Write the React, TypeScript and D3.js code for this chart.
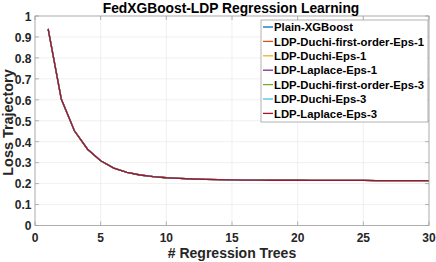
import React from "react";
import * as d3 from "d3";

const trees = [1,2,3,4,5,6,7,8,9,10,11,12,13,14,15,16,17,18,19,20,21,22,23,24,25,26,27,28,29,30];
const plainXGBoost = [0.938,0.604,0.452,0.364,0.309,0.274,0.254,0.241,0.233,0.228,0.225,0.222,0.220,0.219,0.218,0.217,0.217,0.216,0.216,0.216,0.215,0.215,0.215,0.215,0.215,0.214,0.214,0.214,0.214,0.214];
const duchiFirstEps1 = [0.938,0.604,0.452,0.364,0.309,0.274,0.254,0.241,0.233,0.228,0.225,0.222,0.220,0.219,0.218,0.217,0.217,0.216,0.216,0.216,0.215,0.215,0.215,0.215,0.215,0.214,0.214,0.214,0.214,0.214];
const duchiEps1 = [0.938,0.604,0.452,0.364,0.309,0.274,0.254,0.241,0.233,0.228,0.225,0.222,0.220,0.219,0.218,0.217,0.217,0.216,0.216,0.216,0.215,0.215,0.215,0.215,0.215,0.214,0.214,0.214,0.214,0.214];
const laplaceEps1 = [0.938,0.604,0.452,0.364,0.309,0.274,0.254,0.241,0.233,0.228,0.225,0.222,0.220,0.219,0.218,0.217,0.217,0.216,0.216,0.216,0.215,0.215,0.215,0.215,0.215,0.214,0.214,0.214,0.214,0.214];
const duchiFirstEps3 = [0.938,0.604,0.452,0.364,0.309,0.274,0.254,0.241,0.233,0.228,0.225,0.222,0.220,0.219,0.218,0.217,0.217,0.216,0.216,0.216,0.215,0.215,0.215,0.215,0.215,0.214,0.214,0.214,0.214,0.214];
const duchiEps3 = [0.938,0.604,0.452,0.364,0.309,0.274,0.254,0.241,0.233,0.228,0.225,0.222,0.220,0.219,0.218,0.217,0.217,0.216,0.216,0.216,0.215,0.215,0.215,0.215,0.215,0.214,0.214,0.214,0.214,0.214];
const laplaceEps3 = [0.938,0.604,0.452,0.364,0.309,0.274,0.254,0.241,0.233,0.228,0.225,0.222,0.220,0.219,0.218,0.217,0.217,0.216,0.216,0.216,0.215,0.215,0.215,0.215,0.215,0.214,0.214,0.214,0.214,0.214];

const seriesNames = ["Plain-XGBoost","LDP-Duchi-first-order-Eps-1","LDP-Duchi-Eps-1","LDP-Laplace-Eps-1","LDP-Duchi-first-order-Eps-3","LDP-Duchi-Eps-3","LDP-Laplace-Eps-3"];
const seriesValues = [plainXGBoost, duchiFirstEps1, duchiEps1, laplaceEps1, duchiFirstEps3, duchiEps3, laplaceEps3];
const seriesColors = ["#0072BD","#D95319","#EDB120","#7E2F8E","#77AC30","#4DBEEE","#A2142F"];

const xTicks = [0,5,10,15,20,25,30];
const yTicks = [0,0.1,0.2,0.3,0.4,0.5,0.6,0.7,0.8,0.9,1];

const W = 436, H = 262;
const left = 35, right = 429, top = 16, bottom = 225.5;
const FONT = "'Liberation Sans', Arial, Helvetica, sans-serif";

export default function App() {
  const x = d3.scaleLinear().domain([0, 30]).range([left, right]);
  const y = d3.scaleLinear().domain([0, 1]).range([bottom, top]);
  const line = d3.line<number>().x((_, i) => x(trees[i])).y(d => y(d));
  const legX = 261, legY = 20, legW = 167, legH = 102, legStep = 14.4;
  return (
    <svg width={W} height={H} style={{ position: "absolute", left: 0, top: 0, background: "#fff" }} fontFamily={FONT}>
      <rect x={0} y={0} width={W} height={H} fill="#fff" />
      {xTicks.map(t => (
        <line key={"gx" + t} x1={x(t)} x2={x(t)} y1={top} y2={bottom} stroke="#e6e6e6" strokeWidth={0.6} />
      ))}
      {yTicks.map(t => (
        <line key={"gy" + t} x1={left} x2={right} y1={y(t)} y2={y(t)} stroke="#e6e6e6" strokeWidth={0.6} />
      ))}
      {seriesValues.map((vals, i) => (
        <path key={seriesNames[i]} d={line(vals) || ""} fill="none" stroke={seriesColors[i]} strokeWidth={1.3} />
      ))}
      <rect x={left} y={top} width={right - left} height={bottom - top} fill="none" stroke="#a0a0a0" strokeWidth={0.8} />
      {xTicks.map(t => (
        <g key={"tx" + t}>
          <line x1={x(t)} x2={x(t)} y1={bottom} y2={bottom - 4} stroke="#a0a0a0" strokeWidth={0.8} />
          <line x1={x(t)} x2={x(t)} y1={top} y2={top + 4} stroke="#a0a0a0" strokeWidth={0.8} />
          <text x={x(t)} y={bottom + 16.2} textAnchor="middle" fontSize={12} fontWeight="bold" fill="#262626">{t}</text>
        </g>
      ))}
      {yTicks.map(t => (
        <g key={"ty" + t}>
          <line x1={left} x2={left + 4} y1={y(t)} y2={y(t)} stroke="#a0a0a0" strokeWidth={0.8} />
          <line x1={right} x2={right - 4} y1={y(t)} y2={y(t)} stroke="#a0a0a0" strokeWidth={0.8} />
          <text x={left - 3.5} y={y(t) + 4.8} textAnchor="end" fontSize={12} fontWeight="bold" fill="#262626">{d3.format("~g")(t)}</text>
        </g>
      ))}
      <text x={231} y={13.3} textAnchor="middle" fontSize={13.8} fontWeight="bold" fill="#000">FedXGBoost-LDP Regression Learning</text>
      <text x={232} y={258.3} textAnchor="middle" fontSize={14} fontWeight="bold" fill="#262626"># Regression Trees</text>
      <text transform={`translate(12.5,122.5) rotate(-90)`} textAnchor="middle" fontSize={14.4} fontWeight="bold" fill="#262626">Loss Trajectory</text>
      <rect x={legX} y={legY} width={legW} height={legH} fill="#fff" stroke="#a0a0a0" strokeWidth={0.8} />
      {seriesNames.map((n, i) => (
        <g key={"leg" + n}>
          <line x1={legX + 2} x2={legX + 12} y1={legY + 7 + i * legStep} y2={legY + 7 + i * legStep} stroke={seriesColors[i]} strokeWidth={1.3} />
          <text x={legX + 13} y={legY + 11.2 + i * legStep} fontSize={11.3} fontWeight="bold" fill="#000">{n}</text>
        </g>
      ))}
    </svg>
  );
}
